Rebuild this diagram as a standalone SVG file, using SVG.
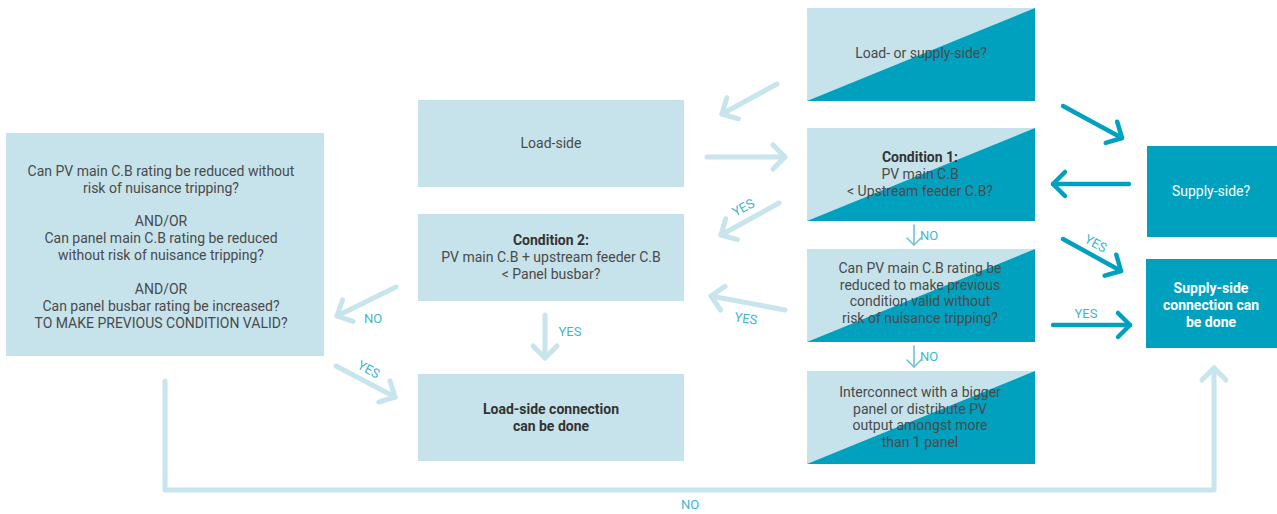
<svg xmlns="http://www.w3.org/2000/svg" width="1277" height="514" viewBox="0 0 1277 514">
<style>
.l{fill:#c6e3eb}
.d{fill:#00a1bf}
text{font-family:"Roboto","Liberation Sans",sans-serif;font-size:14px;text-anchor:middle;fill:#4a4a4a}
.b{font-weight:bold;fill:#333}
.w{fill:#fff}
.wb{fill:#fff;font-weight:bold}
.lab{fill:#3fb6cf;font-size:13px}
.al{fill:none;stroke:#c8e4ec;stroke-width:5;stroke-linecap:round;stroke-linejoin:round}
.ad{fill:none;stroke:#00a1bf;stroke-width:4.5;stroke-linecap:round;stroke-linejoin:round}
.at{fill:none;stroke:#6fc3d8;stroke-width:1.6;stroke-linecap:round;stroke-linejoin:round}
</style>
<defs>
<marker id="ml" markerUnits="userSpaceOnUse" markerWidth="40" markerHeight="40" refX="20" refY="20" orient="auto" overflow="visible">
<path d="M8,8 L20,20 L8,32" fill="none" stroke="#c8e4ec" stroke-width="5" stroke-linecap="round" stroke-linejoin="round"/>
</marker>
<marker id="md" markerUnits="userSpaceOnUse" markerWidth="40" markerHeight="40" refX="20" refY="20" orient="auto" overflow="visible">
<path d="M8,8 L20,20 L8,32" fill="none" stroke="#00a1bf" stroke-width="4.5" stroke-linecap="round" stroke-linejoin="round"/>
</marker>
<marker id="mt" markerUnits="userSpaceOnUse" markerWidth="20" markerHeight="20" refX="10" refY="10" orient="auto" overflow="visible">
<path d="M3,3 L10,10 L3,17" fill="none" stroke="#6fc3d8" stroke-width="1.6" stroke-linecap="round" stroke-linejoin="round"/>
</marker>
</defs>

<g id="n-left">
<rect class="l" x="6" y="133" width="318" height="223"/>
<text x="161" y="176">Can PV main C.B rating be reduced without</text>
<text x="161" y="193">risk of nuisance tripping?</text>
<text x="161" y="226">AND/OR</text>
<text x="161" y="243">Can panel main C.B rating be reduced</text>
<text x="161" y="260">without risk of nuisance tripping?</text>
<text x="161" y="294">AND/OR</text>
<text x="161" y="311">Can panel busbar rating be increased?</text>
<text x="161" y="328">TO MAKE PREVIOUS CONDITION VALID?</text>
</g>

<g id="n-loadside">
<rect class="l" x="418" y="100" width="266" height="87"/>
<text x="551" y="148">Load-side</text>
</g>

<g id="n-cond2">
<rect class="l" x="418" y="214" width="266" height="87"/>
<text class="b" x="551" y="245">Condition 2:</text>
<text x="551" y="262">PV main C.B + upstream feeder C.B</text>
<text x="551" y="279">&lt; Panel busbar?</text>
</g>

<g id="n-loaddone">
<rect class="l" x="418" y="374" width="266" height="87"/>
<text class="b" x="551" y="414">Load-side connection</text>
<text class="b" x="551" y="431">can be done</text>
</g>

<g id="n-question">
<rect class="l" x="807" y="8" width="228" height="93"/>
<polygon class="d" points="807,101 1035,8 1035,101"/>
<text x="921" y="58">Load- or supply-side?</text>
</g>

<g id="n-cond1">
<rect class="l" x="807" y="128" width="228" height="93"/>
<polygon class="d" points="807,221 1035,128 1035,221"/>
<text class="b" x="920" y="162">Condition 1:</text>
<text x="920" y="179">PV main C.B</text>
<text x="920" y="196">&lt; Upstream feeder C.B?</text>
</g>

<g id="n-reduce">
<rect class="l" x="807" y="249" width="228" height="93"/>
<polygon class="d" points="807,342 1035,249 1035,342"/>
<text x="920" y="273">Can PV main C.B rating be</text>
<text x="920" y="290">reduced to make previous</text>
<text x="920" y="306">condition valid without</text>
<text x="920" y="323">risk of nuisance tripping?</text>
</g>

<g id="n-interconnect">
<rect class="l" x="807" y="371" width="228" height="93"/>
<polygon class="d" points="807,464 1035,371 1035,464"/>
<text x="920" y="397">Interconnect with a bigger</text>
<text x="920" y="414">panel or distribute PV</text>
<text x="920" y="430">output amongst more</text>
<text x="920" y="447">than 1 panel</text>
</g>

<g id="n-supply">
<rect class="d" x="1147" y="146" width="130" height="91"/>
<text class="w" x="1211" y="196">Supply-side?</text>
</g>

<g id="n-supplydone">
<rect class="d" x="1146" y="259" width="131" height="89"/>
<text class="wb" x="1211" y="293">Supply-side</text>
<text class="wb" x="1211" y="310">connection can</text>
<text class="wb" x="1211" y="327">be done</text>
</g>

<g id="connectors">
<path class="al" d="M777,84 L722,114" marker-end="url(#ml)"/>
<path class="al" d="M707,157 L785,157" marker-end="url(#ml)"/>
<path class="al" d="M779,203 L721,235" marker-end="url(#ml)"/>
<path class="al" d="M785,310 L711,296" marker-end="url(#ml)"/>
<path class="al" d="M396,287 L337,316" marker-end="url(#ml)"/>
<path class="al" d="M336,366 L395,397" marker-end="url(#ml)"/>
<path class="al" d="M545,315 L545,358" marker-end="url(#ml)"/>
<path class="al" d="M165,381 V490 H1214 V368" marker-end="url(#ml)"/>
<path class="ad" d="M1063,106 L1122,138" marker-end="url(#md)"/>
<path class="ad" d="M1129,184 L1053,184" marker-end="url(#md)"/>
<path class="ad" d="M1063,239 L1121,271" marker-end="url(#md)"/>
<path class="ad" d="M1053,325 L1130,325" marker-end="url(#md)"/>
<path class="at" d="M914,225 L914,245" marker-end="url(#mt)"/>
<path class="at" d="M914,346 L914,367" marker-end="url(#mt)"/>
<text class="lab" x="743" y="212" transform="rotate(-28 743 207)">YES</text>
<text class="lab" x="746" y="323" transform="rotate(8 746 318)">YES</text>
<text class="lab" x="373" y="323">NO</text>
<text class="lab" x="369" y="374" transform="rotate(28 369 369)">YES</text>
<text class="lab" x="570" y="336">YES</text>
<text class="lab" x="1096" y="248" transform="rotate(28 1096 243)">YES</text>
<text class="lab" x="1086" y="318">YES</text>
<text class="lab" x="929" y="240">NO</text>
<text class="lab" x="929" y="361">NO</text>
<text class="lab" x="690" y="509">NO</text>
</g>
</svg>
